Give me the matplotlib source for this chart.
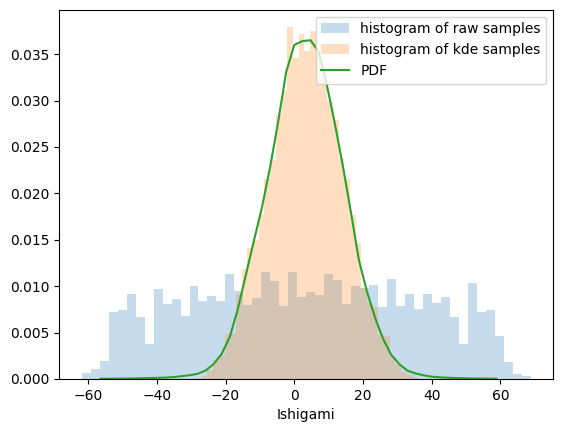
import matplotlib
matplotlib.use("Agg")
import matplotlib.pyplot as plt
import numpy as np

# histogram of the raw samples: 50 bins, density values
raw_start = -61.83
raw_width = 2.613
raw_density = [
    0.00065, 0.00108, 0.00194, 0.00722, 0.00743, 0.00915, 0.00668, 0.00377,
    0.00969, 0.00808, 0.00861, 0.00678, 0.01001, 0.00840, 0.00894, 0.00840,
    0.01130, 0.00948, 0.00797, 0.00872, 0.01152, 0.01055, 0.00786, 0.01152,
    0.00883, 0.00937, 0.00905, 0.01130, 0.01066, 0.00808, 0.01001, 0.00980,
    0.01012, 0.00775, 0.01077, 0.00786, 0.00915, 0.00754, 0.00915, 0.00818,
    0.00883, 0.00668, 0.00377, 0.01034, 0.00722, 0.00743, 0.00463, 0.00183,
    0.00054, 0.00032,
]

# histogram of the kde samples (narrower bins)
kde_start = -28.56
kde_width = 1.658
kde_density = [
    0.0001, 0.0003, 0.0010, 0.0021, 0.0026, 0.0049, 0.0050, 0.0092,
    0.0118, 0.0141, 0.0150, 0.0177, 0.0215, 0.0236, 0.0286, 0.0310,
    0.0379, 0.0346, 0.0372, 0.0353, 0.0375, 0.0350, 0.0330, 0.0300,
    0.0279, 0.0238, 0.0216, 0.0177, 0.0146, 0.0098, 0.0082, 0.0078,
    0.0047, 0.0046, 0.0024, 0.0016, 0.0008, 0.0004, 0.0002,
]

# pdf evaluated on 50 points
pdf_x = np.linspace(-56.4, 58.8, 50)
pdf_y = [
    0.00003, 0.00003, 0.00004, 0.00005, 0.00006, 0.00008, 0.00010, 0.00012,
    0.00015, 0.00020, 0.00030, 0.00040, 0.00055, 0.00090, 0.00160, 0.00270,
    0.00450, 0.00750, 0.01120, 0.01490, 0.01850, 0.02280, 0.02770, 0.03310,
    0.03600, 0.03640, 0.03650, 0.03530, 0.03180, 0.02760, 0.02300, 0.01800,
    0.01280, 0.00940, 0.00660, 0.00430, 0.00260, 0.00160, 0.00090, 0.00060,
    0.00040, 0.00025, 0.00018, 0.00014, 0.00010, 0.00008, 0.00006, 0.00005,
    0.00004, 0.00003,
]

raw_edges = raw_start + raw_width * np.arange(len(raw_density) + 1)
kde_edges = kde_start + kde_width * np.arange(len(kde_density) + 1)

fig = plt.figure(figsize=(5.65, 4.32), dpi=100)
ax = fig.add_axes([0.105, 0.1227, 0.874, 0.855])

ax.hist(raw_edges[:-1] + raw_width / 2, bins=raw_edges, weights=raw_density,
        alpha=0.25, label="histogram of raw samples")
ax.hist(kde_edges[:-1] + kde_width / 2, bins=kde_edges, weights=kde_density,
        alpha=0.25, label="histogram of kde samples")
ax.plot(pdf_x, pdf_y, label="PDF")

ax.set_xlabel("Ishigami")
ax.legend(loc="upper right")

fig.savefig("out.png", dpi=100)
